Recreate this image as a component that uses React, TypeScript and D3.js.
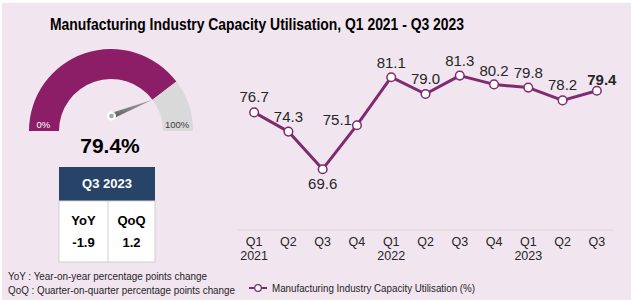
import React from "react";
import * as d3 from "d3";

const quarters = ["Q1", "Q2", "Q3", "Q4", "Q1", "Q2", "Q3", "Q4", "Q1", "Q2", "Q3"];
const years = ["2021", "", "", "", "2022", "", "", "", "2023", "", ""];
const utilisation = [76.7, 74.3, 69.6, 75.1, 81.1, 79.0, 81.3, 80.2, 79.8, 78.2, 79.4];
const labelPlacement = ["above", "above", "below", "left", "above", "above", "above", "above", "above", "above", "above"];
const gaugeValue = 79.4;
const tableHeader = "Q3 2023";
const tableCols = ["YoY", "QoQ"];
const tableVals = ["-1.9", "1.2"];
const title = "Manufacturing Industry Capacity Utilisation, Q1 2021 - Q3 2023";
const legendLabel = "Manufacturing Industry Capacity Utilisation (%)";
const footnotes = ["YoY : Year-on-year percentage points change", "QoQ : Quarter-on-quarter percentage points change"];

const W = 631, H = 300;
const FONT = "'Liberation Sans', Arial, sans-serif";
const PURPLE = "#8C1E68";
const LINE = "#7E2B6F";
const BG = "#F1E5EF";

export default function App() {
  const ids = quarters.map((_, i) => String(i));
  const x = d3.scaleBand().domain(ids).range([237, 614]).padding(0);
  const y = d3.scaleLinear().domain([62, 85]).range([230, 46]);
  const cx = (i: number) => (x(String(i)) as number) + x.bandwidth() / 2;

  const lineGen = d3.line<number>().x((_, i) => cx(i)).y((d) => y(d));

  // gauge
  const gcx = 111, gcy = 131, rOut = 82, rIn = 52;
  const g = d3.scaleLinear().domain([0, 100]).range([-Math.PI / 2, Math.PI / 2]);
  const arc = d3.arc<any>().innerRadius(rIn).outerRadius(rOut);
  const filled = arc({ startAngle: g(0), endAngle: g(gaugeValue) });
  const rest = arc({ startAngle: g(gaugeValue), endAngle: g(100) });
  const ang = g(gaugeValue);
  const tipX = gcx + rIn * Math.sin(ang);
  const tipY = gcy - rIn * Math.cos(ang);
  const px = 111.5, py = 116;
  const nAng = Math.atan2(tipY - py, tipX - px);
  const hw = 3;
  const needle = `M${px + hw * Math.sin(nAng)},${py - hw * Math.cos(nAng)} L${tipX},${tipY} L${px - hw * Math.sin(nAng)},${py + hw * Math.cos(nAng)} Z`;

  const labelDy = [-10, -10, 20, 0, -9, -10, -10, -8, -10, -10, -6];

  return (
    <svg width={W} height={H} style={{ position: "absolute", left: 0, top: 0 }} fontFamily={FONT}>
      <defs>
        <linearGradient id="ng" x1="0" y1="0" x2="0" y2="1">
          <stop offset="0" stopColor="#A6A6A6" />
          <stop offset="1" stopColor="#595959" />
        </linearGradient>
      </defs>
      <rect x={0} y={0} width={W} height={H} fill="#ffffff" />
      <rect x={2} y={3} width={W - 2} height={H - 3} fill={BG} />
      <text x={50} y={30} fontSize={16.5} fontWeight="bold" fill="#000" textLength={414} lengthAdjust="spacingAndGlyphs">{title}</text>

      {/* Gauge */}
      <g transform={`translate(${gcx},${gcy})`}>
        <path d={filled || ""} fill={PURPLE} />
        <path d={rest || ""} fill="#D9D9D9" />
      </g>
      <text x={36.5} y={127.5} fontSize={9.5} fill="#ffffff">0%</text>
      <text x={165} y={127.5} fontSize={9.5} fill="#404040">100%</text>
      <path d={needle} fill="url(#ng)" />
      <circle cx={px} cy={py} r={4.5} fill="#ffffff" />
      <circle cx={px} cy={py} r={2.3} fill="#A6A6A6" />
      <text x={110} y={153} fontSize={21} fontWeight="bold" textAnchor="middle" fill="#000">{gaugeValue.toFixed(1)}%</text>

      {/* Table */}
      <rect x={59} y={167} width={96} height={34} fill="#274468" />
      <text x={107} y={188} fontSize={13} fontWeight="bold" fill="#fff" textAnchor="middle">{tableHeader}</text>
      <rect x={59} y={201} width={96} height={61} fill="#fff" stroke="#D0D0D0" strokeWidth={1} />
      <line x1={108} y1={201} x2={108} y2={262} stroke="#D0D0D0" strokeWidth={1} />
      {tableCols.map((c, i) => (
        <g key={c}>
          <text x={i === 0 ? 83.5 : 131.5} y={225} fontSize={13} fontWeight="bold" textAnchor="middle" fill="#000">{c}</text>
          <text x={i === 0 ? 83.5 : 131.5} y={247} fontSize={13} fontWeight="bold" textAnchor="middle" fill="#000">{tableVals[i]}</text>
        </g>
      ))}

      {/* Line chart */}
      <line x1={237} x2={614} y1={230} y2={230} stroke="#D9D9D9" strokeWidth={1} />
      {quarters.map((q, i) => (
        <g key={"t" + i}>
          <text x={cx(i)} y={246} fontSize={12.5} textAnchor="middle" fill="#262626">{q}</text>
          {years[i] && <text x={cx(i)} y={259.5} fontSize={12.5} textAnchor="middle" fill="#262626">{years[i]}</text>}
        </g>
      ))}
      <path d={lineGen(utilisation) || ""} fill="none" stroke={LINE} strokeWidth={3} strokeLinejoin="round" />
      {utilisation.map((v, i) => (
        <circle key={"c" + i} cx={cx(i)} cy={y(v)} r={4.3} fill="#fff" stroke={LINE} strokeWidth={1.5} />
      ))}
      {utilisation.map((v, i) => {
        const last = i === utilisation.length - 1;
        const p = labelPlacement[i];
        const lx = p === "left" ? cx(i) - 5 : cx(i) + (last ? 5 : 0);
        const ly = y(v) + labelDy[i];
        return (
          <text key={"l" + i} x={lx} y={ly} fontSize={15} fontWeight={last ? "bold" : "normal"}
            textAnchor={p === "left" ? "end" : "middle"} fill="#262626">{v.toFixed(1)}</text>
        );
      })}

      {/* Legend */}
      <line x1={249} x2={267} y1={288} y2={288} stroke={LINE} strokeWidth={2} />
      <circle cx={258} cy={288} r={3.3} fill="#fff" stroke={LINE} strokeWidth={1.3} />
      <text x={272} y={292} fontSize={11.5} fill="#262626" textLength={203} lengthAdjust="spacingAndGlyphs">{legendLabel}</text>

      {/* Footnotes */}
      <text x={8} y={280} fontSize={11.5} fill="#262626" textLength={199} lengthAdjust="spacingAndGlyphs">{footnotes[0]}</text>
      <text x={8} y={294} fontSize={11.5} fill="#262626" textLength={227} lengthAdjust="spacingAndGlyphs">{footnotes[1]}</text>
    </svg>
  );
}
